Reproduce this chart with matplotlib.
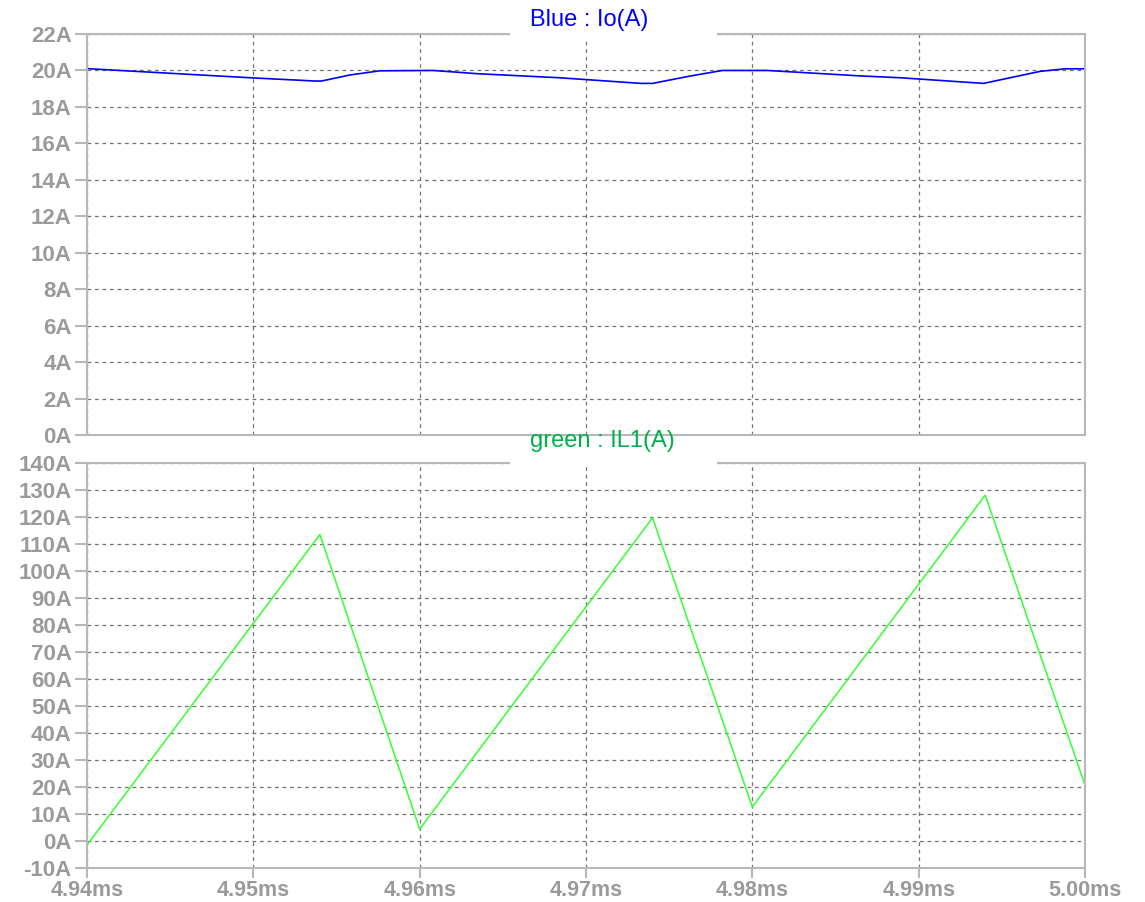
import matplotlib
matplotlib.use("Agg")
import matplotlib.pyplot as plt
from matplotlib.patches import Rectangle
from matplotlib.ticker import FuncFormatter, MultipleLocator

# tiempo en ms
t_io = [4.940, 4.9498, 4.9537, 4.9541, 4.9558, 4.9576, 4.9608, 4.9635, 4.9684,
        4.9733, 4.9740, 4.9763, 4.9782, 4.9809, 4.9865, 4.9889, 4.9939, 4.9955,
        4.9973, 4.9988, 5.000]
io = [20.1, 19.6, 19.42, 19.42, 19.75, 19.98, 20.0, 19.82, 19.6,
      19.29, 19.29, 19.7, 20.0, 20.0, 19.7, 19.6, 19.29, 19.6,
      19.95, 20.09, 20.09]

t_il1 = [4.940, 4.954, 4.960, 4.974, 4.980, 4.994, 5.000]
il1 = [-1.5, 113.5, 4.4, 119.7, 12.6, 128.1, 20.7]

x_ticks = [4.94, 4.95, 4.96, 4.97, 4.98, 4.99, 5.00]

gris_eje = "#b8b8b8"
gris_txt = "#9a9a9a"
gris_grid = "#727272"

plt.rcParams['font.family'] = ['Liberation Sans', 'DejaVu Sans']

fig = plt.figure(figsize=(11.45, 9.02), dpi=100)
ax1 = fig.add_axes([87/1145, 1-435/902, 998/1145, 401/902])
ax2 = fig.add_axes([87/1145, 1-868/902, 998/1145, 405/902])


def fmt_a(v, pos):
    return "%dA" % round(v)


def estilo(ax, ymin, ymax, paso, con_x):
    ax.set_xlim(4.94, 5.00)
    ax.set_ylim(ymin, ymax)
    ax.set_xticks(x_ticks)
    ax.yaxis.set_major_locator(MultipleLocator(paso))
    ax.yaxis.set_major_formatter(FuncFormatter(fmt_a))
    ax.xaxis.set_major_formatter(FuncFormatter(lambda v, p: "%.2fms" % v))
    for s in ax.spines.values():
        s.set_color(gris_eje)
        s.set_linewidth(1.5)
    ax.grid(True, color=gris_grid, linestyle=(0, (3, 3)), linewidth=0.9)
    ax.tick_params(axis='y', colors=gris_eje, labelcolor=gris_txt, length=9,
                   width=1.5, pad=2, labelsize=16)
    ax.tick_params(axis='x', colors=gris_eje, labelcolor=gris_txt, length=7,
                   width=1.5, pad=1.5, labelsize=15.5, labelbottom=con_x,
                   bottom=con_x)
    for lab in ax.get_yticklabels() + ax.get_xticklabels():
        lab.set_fontweight('bold')


estilo(ax1, 0, 22, 2, False)
estilo(ax2, -10, 140, 10, True)

ax1.plot(t_io, io, color="#0000ff", linewidth=1.2)
ax2.plot(t_il1, il1, color="#33ff33", linewidth=1.1)

# titulos sobre el borde superior
x0 = (510 - 87) / 998
w = (717 - 510) / 998
for ax, txt, col, dy in [(ax1, "Blue : Io(A)", "#0000ff", 8),
                         (ax2, "green : IL1(A)", "#00b04c", 16)]:
    ax.add_patch(Rectangle((x0, 0.99), w, 0.03, transform=ax.transAxes,
                           facecolor="white", edgecolor="none",
                           clip_on=False, zorder=5))
    h = ax.get_position().height * 902
    ax.text((530 - 87) / 998, 1 + dy / h, txt, transform=ax.transAxes,
            color=col, fontsize=17, ha='left', va='baseline', zorder=6)

fig.savefig("out.png", dpi=100)
